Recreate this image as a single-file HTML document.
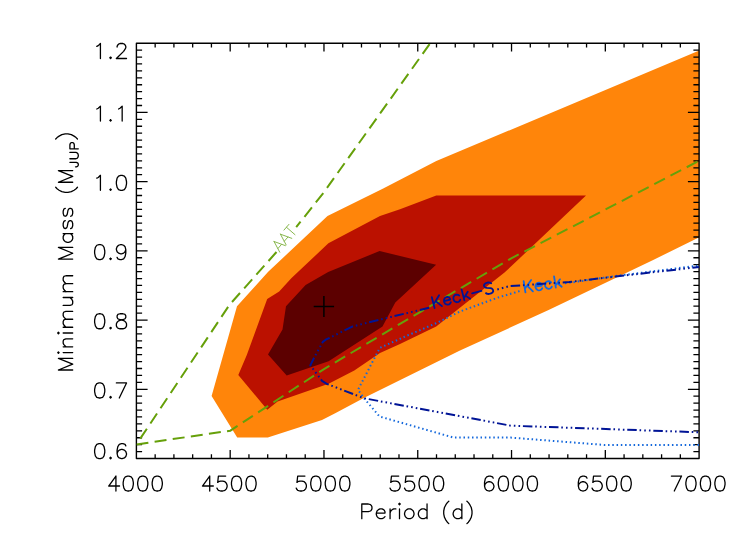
<!DOCTYPE html>
<html><head><meta charset="utf-8"><title>Minimum Mass vs Period</title>
<style>html,body{margin:0;padding:0;background:#fff;font-family:"Liberation Sans",sans-serif;}svg{display:block}</style></head>
<body>
<svg width="740" height="545" viewBox="0 0 740 545">
<rect x="0" y="0" width="740" height="545" fill="#ffffff"/>
<polygon points="211.6,396.1 237.0,306.2 268.2,271.7 327.5,216.1 383.2,188.6 436.3,161.0 699.3,50.5 699.3,237.2 653.2,260.0 548.6,310.0 460.0,350.6 363.8,397.9 335.2,413.3 322.0,420.0 267.8,437.4 237.2,437.4" fill="#FF850A"/>
<polygon points="238.3,375.0 246.8,355.0 267.2,299.0 279.2,291.5 291.3,278.3 328.4,243.3 380.0,216.1 400.0,209.3 436.3,195.6 586.0,195.6 504.5,272.6 436.2,326.4 400.0,344.1 380.0,352.9 354.3,370.5 328.6,383.7 277.6,401.4 267.3,409.7" fill="#BB1100"/>
<polygon points="268.0,354.5 282.5,329.5 286.0,306.2 305.6,284.9 328.2,272.0 379.6,251.0 436.1,264.8 395.3,302.6 382.5,326.4 328.6,361.3 286.7,375.5" fill="#5C0000"/>
<rect x="136.40" y="43.20" width="562.70" height="415.30" fill="none" stroke="#000" stroke-width="1.4" stroke-linejoin="round"/>
<path d="M155.16 458.50 v-4.30 M155.16 43.20 v4.30 M173.91 458.50 v-4.30 M173.91 43.20 v4.30 M192.67 458.50 v-4.30 M192.67 43.20 v4.30 M211.43 458.50 v-4.30 M211.43 43.20 v4.30 M230.18 458.50 v-8.40 M230.18 43.20 v8.40 M248.94 458.50 v-4.30 M248.94 43.20 v4.30 M267.70 458.50 v-4.30 M267.70 43.20 v4.30 M286.45 458.50 v-4.30 M286.45 43.20 v4.30 M305.21 458.50 v-4.30 M305.21 43.20 v4.30 M323.97 458.50 v-8.40 M323.97 43.20 v8.40 M342.72 458.50 v-4.30 M342.72 43.20 v4.30 M361.48 458.50 v-4.30 M361.48 43.20 v4.30 M380.24 458.50 v-4.30 M380.24 43.20 v4.30 M398.99 458.50 v-4.30 M398.99 43.20 v4.30 M417.75 458.50 v-8.40 M417.75 43.20 v8.40 M436.51 458.50 v-4.30 M436.51 43.20 v4.30 M455.26 458.50 v-4.30 M455.26 43.20 v4.30 M474.02 458.50 v-4.30 M474.02 43.20 v4.30 M492.78 458.50 v-4.30 M492.78 43.20 v4.30 M511.53 458.50 v-8.40 M511.53 43.20 v8.40 M530.29 458.50 v-4.30 M530.29 43.20 v4.30 M549.05 458.50 v-4.30 M549.05 43.20 v4.30 M567.80 458.50 v-4.30 M567.80 43.20 v4.30 M586.56 458.50 v-4.30 M586.56 43.20 v4.30 M605.32 458.50 v-8.40 M605.32 43.20 v8.40 M624.07 458.50 v-4.30 M624.07 43.20 v4.30 M642.83 458.50 v-4.30 M642.83 43.20 v4.30 M661.59 458.50 v-4.30 M661.59 43.20 v4.30 M680.34 458.50 v-4.30 M680.34 43.20 v4.30 M136.40 451.58 h5.70 M699.10 451.58 h-5.70 M136.40 444.66 h5.70 M699.10 444.66 h-5.70 M136.40 437.73 h5.70 M699.10 437.73 h-5.70 M136.40 430.81 h5.70 M699.10 430.81 h-5.70 M136.40 423.89 h5.70 M699.10 423.89 h-5.70 M136.40 416.97 h5.70 M699.10 416.97 h-5.70 M136.40 410.05 h5.70 M699.10 410.05 h-5.70 M136.40 403.13 h5.70 M699.10 403.13 h-5.70 M136.40 396.21 h5.70 M699.10 396.21 h-5.70 M136.40 389.28 h11.20 M699.10 389.28 h-11.20 M136.40 382.36 h5.70 M699.10 382.36 h-5.70 M136.40 375.44 h5.70 M699.10 375.44 h-5.70 M136.40 368.52 h5.70 M699.10 368.52 h-5.70 M136.40 361.60 h5.70 M699.10 361.60 h-5.70 M136.40 354.67 h5.70 M699.10 354.67 h-5.70 M136.40 347.75 h5.70 M699.10 347.75 h-5.70 M136.40 340.83 h5.70 M699.10 340.83 h-5.70 M136.40 333.91 h5.70 M699.10 333.91 h-5.70 M136.40 326.99 h5.70 M699.10 326.99 h-5.70 M136.40 320.07 h11.20 M699.10 320.07 h-11.20 M136.40 313.14 h5.70 M699.10 313.14 h-5.70 M136.40 306.22 h5.70 M699.10 306.22 h-5.70 M136.40 299.30 h5.70 M699.10 299.30 h-5.70 M136.40 292.38 h5.70 M699.10 292.38 h-5.70 M136.40 285.46 h5.70 M699.10 285.46 h-5.70 M136.40 278.54 h5.70 M699.10 278.54 h-5.70 M136.40 271.62 h5.70 M699.10 271.62 h-5.70 M136.40 264.69 h5.70 M699.10 264.69 h-5.70 M136.40 257.77 h5.70 M699.10 257.77 h-5.70 M136.40 250.85 h11.20 M699.10 250.85 h-11.20 M136.40 243.93 h5.70 M699.10 243.93 h-5.70 M136.40 237.01 h5.70 M699.10 237.01 h-5.70 M136.40 230.09 h5.70 M699.10 230.09 h-5.70 M136.40 223.16 h5.70 M699.10 223.16 h-5.70 M136.40 216.24 h5.70 M699.10 216.24 h-5.70 M136.40 209.32 h5.70 M699.10 209.32 h-5.70 M136.40 202.40 h5.70 M699.10 202.40 h-5.70 M136.40 195.48 h5.70 M699.10 195.48 h-5.70 M136.40 188.55 h5.70 M699.10 188.55 h-5.70 M136.40 181.63 h11.20 M699.10 181.63 h-11.20 M136.40 174.71 h5.70 M699.10 174.71 h-5.70 M136.40 167.79 h5.70 M699.10 167.79 h-5.70 M136.40 160.87 h5.70 M699.10 160.87 h-5.70 M136.40 153.95 h5.70 M699.10 153.95 h-5.70 M136.40 147.02 h5.70 M699.10 147.02 h-5.70 M136.40 140.10 h5.70 M699.10 140.10 h-5.70 M136.40 133.18 h5.70 M699.10 133.18 h-5.70 M136.40 126.26 h5.70 M699.10 126.26 h-5.70 M136.40 119.34 h5.70 M699.10 119.34 h-5.70 M136.40 112.42 h11.20 M699.10 112.42 h-11.20 M136.40 105.50 h5.70 M699.10 105.50 h-5.70 M136.40 98.57 h5.70 M699.10 98.57 h-5.70 M136.40 91.65 h5.70 M699.10 91.65 h-5.70 M136.40 84.73 h5.70 M699.10 84.73 h-5.70 M136.40 77.81 h5.70 M699.10 77.81 h-5.70 M136.40 70.89 h5.70 M699.10 70.89 h-5.70 M136.40 63.97 h5.70 M699.10 63.97 h-5.70 M136.40 57.04 h5.70 M699.10 57.04 h-5.70 M136.40 50.12 h5.70 M699.10 50.12 h-5.70" fill="none" stroke="#000" stroke-width="1.3"/>
<clipPath id="c"><rect x="136.40" y="43.20" width="562.70" height="415.30"/></clipPath>
<g clip-path="url(#c)">
<polyline points="138.0,442.0 229.5,304.8 276.5,252.0" fill="none" stroke="#66A00A" stroke-width="2.0" stroke-dasharray="12 6.3" stroke-dashoffset="14.3"/>
<polyline points="296.2,227.2 324.1,192.0 430.0,43.5" fill="none" stroke="#66A00A" stroke-width="2.0" stroke-dasharray="12 6.3" stroke-dashoffset="5"/>
<polyline points="136.5,444.4 230.3,430.7 324.4,368.8 417.9,313.3 511.7,258.1 605.5,209.5 699.1,160.8" fill="none" stroke="#66A00A" stroke-width="2.0" stroke-dasharray="12 6.3" stroke-dashoffset="0"/>
<polyline points="699.0,444.9 603.9,444.9 510.8,437.6 453.6,437.6 379.5,416.5 363.8,398.0 358.0,389.8 376.4,354.4 380.0,347.8 405.6,336.3 436.4,323.1 460.0,311.5 497.8,297.6 520.0,291.0" fill="none" stroke="#1468DC" stroke-width="2.0" stroke-dasharray="1.5 2.76" />
<polyline points="565.0,283.2 570.3,282.6 615.7,276.0 699.1,265.5" fill="none" stroke="#1468DC" stroke-width="2.0" stroke-dasharray="1.5 2.76" />
<path transform="translate(523.3 292.8) rotate(-9.0)" d="M2.16 -11.34 L2.16 0.00 M9.72 -11.34 L2.16 -3.78 M4.86 -6.48 L9.72 0.00 M12.96 -4.32 L19.44 -4.32 L19.44 -5.40 L18.90 -6.48 L18.36 -7.02 L17.28 -7.56 L15.66 -7.56 L14.58 -7.02 L13.50 -5.94 L12.96 -4.32 L12.96 -3.24 L13.50 -1.62 L14.58 -0.54 L15.66 0.00 L17.28 0.00 L18.36 -0.54 L19.44 -1.62 M29.16 -5.94 L28.08 -7.02 L27.00 -7.56 L25.38 -7.56 L24.30 -7.02 L23.22 -5.94 L22.68 -4.32 L22.68 -3.24 L23.22 -1.62 L24.30 -0.54 L25.38 0.00 L27.00 0.00 L28.08 -0.54 L29.16 -1.62 M32.94 -11.34 L32.94 0.00 M38.34 -7.56 L32.94 -2.16 M35.10 -4.32 L38.88 0.00" fill="none" stroke="#1468DC" stroke-width="1.8" stroke-linecap="round" stroke-linejoin="round"/>
<polyline points="699.0,432.3 510.8,425.7 363.8,398.2 326.4,383.7 322.0,380.8 310.3,365.4 314.7,356.6 322.8,341.9 325.7,339.7 352.8,326.4 383.6,318.7 430.5,307.5" fill="none" stroke="#001496" stroke-width="2" stroke-dasharray="9.5 2.8 1.6 3.1 1.6 3.1 1.6 2.8" stroke-linejoin="round" stroke-dashoffset="16"/>
<polyline points="497.0,289.5 509.2,286.2 569.2,282.0 615.7,276.5 699.1,267.0" fill="none" stroke="#001496" stroke-width="2" stroke-dasharray="9.5 2.8 1.6 3.1 1.6 3.1 1.6 2.8" stroke-dashoffset="12"/>
<path transform="translate(432.5 308.6) rotate(-14.5)" d="M2.16 -11.34 L2.16 0.00 M9.72 -11.34 L2.16 -3.78 M4.86 -6.48 L9.72 0.00 M12.96 -4.32 L19.44 -4.32 L19.44 -5.40 L18.90 -6.48 L18.36 -7.02 L17.28 -7.56 L15.66 -7.56 L14.58 -7.02 L13.50 -5.94 L12.96 -4.32 L12.96 -3.24 L13.50 -1.62 L14.58 -0.54 L15.66 0.00 L17.28 0.00 L18.36 -0.54 L19.44 -1.62 M29.16 -5.94 L28.08 -7.02 L27.00 -7.56 L25.38 -7.56 L24.30 -7.02 L23.22 -5.94 L22.68 -4.32 L22.68 -3.24 L23.22 -1.62 L24.30 -0.54 L25.38 0.00 L27.00 0.00 L28.08 -0.54 L29.16 -1.62 M32.94 -11.34 L32.94 0.00 M38.34 -7.56 L32.94 -2.16 M35.10 -4.32 L38.88 0.00 M42.12 -4.86 L51.84 -4.86 M63.18 -9.72 L62.10 -10.80 L60.48 -11.34 L58.32 -11.34 L56.70 -10.80 L55.62 -9.72 L55.62 -8.64 L56.16 -7.56 L56.70 -7.02 L57.78 -6.48 L61.02 -5.40 L62.10 -4.86 L62.64 -4.32 L63.18 -3.24 L63.18 -1.62 L62.10 -0.54 L60.48 0.00 L58.32 0.00 L56.70 -0.54 L55.62 -1.62" fill="none" stroke="#001496" stroke-width="1.8" stroke-linecap="round" stroke-linejoin="round"/>
<path transform="translate(279.4 252.6) rotate(-49.0)" d="M4.86 -11.34 L0.54 0.00 M4.86 -11.34 L9.18 0.00 M2.16 -3.78 L7.56 -3.78 M14.58 -11.34 L10.26 0.00 M14.58 -11.34 L18.90 0.00 M11.88 -3.78 L17.28 -3.78 M23.76 -11.34 L23.76 0.00 M19.98 -11.34 L27.54 -11.34" fill="none" stroke="#86b54a" stroke-width="0.9" stroke-linecap="round" stroke-linejoin="round"/>
</g>
<path d="M313.7 306.5 H334.1 M323.9 296.1 V316.9" stroke="#000" stroke-width="1.5" fill="none"/>
<path d="M115.92 476.05 L108.67 486.02 L119.55 486.02 M115.92 476.05 L115.92 491.00 M127.53 476.05 L125.35 476.76 L123.90 478.90 L123.17 482.46 L123.17 484.59 L123.90 488.15 L125.35 490.29 L127.53 491.00 L128.97 491.00 L131.15 490.29 L132.60 488.15 L133.32 484.59 L133.32 482.46 L132.60 478.90 L131.15 476.76 L128.97 476.05 L127.53 476.05 M142.03 476.05 L139.85 476.76 L138.40 478.90 L137.68 482.46 L137.68 484.59 L138.40 488.15 L139.85 490.29 L142.03 491.00 L143.47 491.00 L145.65 490.29 L147.10 488.15 L147.82 484.59 L147.82 482.46 L147.10 478.90 L145.65 476.76 L143.47 476.05 L142.03 476.05 M156.53 476.05 L154.35 476.76 L152.90 478.90 L152.18 482.46 L152.18 484.59 L152.90 488.15 L154.35 490.29 L156.53 491.00 L157.97 491.00 L160.15 490.29 L161.60 488.15 L162.32 484.59 L162.32 482.46 L161.60 478.90 L160.15 476.76 L157.97 476.05 L156.53 476.05 M209.71 476.05 L202.46 486.02 L213.33 486.02 M209.71 476.05 L209.71 491.00 M225.66 476.05 L218.41 476.05 L217.68 482.46 L218.41 481.74 L220.58 481.03 L222.76 481.03 L224.93 481.74 L226.38 483.17 L227.11 485.30 L227.11 486.73 L226.38 488.86 L224.93 490.29 L222.76 491.00 L220.58 491.00 L218.41 490.29 L217.68 489.58 L216.96 488.15 M235.81 476.05 L233.63 476.76 L232.18 478.90 L231.46 482.46 L231.46 484.59 L232.18 488.15 L233.63 490.29 L235.81 491.00 L237.26 491.00 L239.43 490.29 L240.88 488.15 L241.61 484.59 L241.61 482.46 L240.88 478.90 L239.43 476.76 L237.26 476.05 L235.81 476.05 M250.31 476.05 L248.13 476.76 L246.68 478.90 L245.96 482.46 L245.96 484.59 L246.68 488.15 L248.13 490.29 L250.31 491.00 L251.76 491.00 L253.93 490.29 L255.38 488.15 L256.11 484.59 L256.11 482.46 L255.38 478.90 L253.93 476.76 L251.76 476.05 L250.31 476.05 M304.94 476.05 L297.69 476.05 L296.97 482.46 L297.69 481.74 L299.87 481.03 L302.04 481.03 L304.22 481.74 L305.67 483.17 L306.39 485.30 L306.39 486.73 L305.67 488.86 L304.22 490.29 L302.04 491.00 L299.87 491.00 L297.69 490.29 L296.97 489.58 L296.24 488.15 M315.09 476.05 L312.92 476.76 L311.47 478.90 L310.74 482.46 L310.74 484.59 L311.47 488.15 L312.92 490.29 L315.09 491.00 L316.54 491.00 L318.72 490.29 L320.17 488.15 L320.89 484.59 L320.89 482.46 L320.17 478.90 L318.72 476.76 L316.54 476.05 L315.09 476.05 M329.59 476.05 L327.42 476.76 L325.97 478.90 L325.24 482.46 L325.24 484.59 L325.97 488.15 L327.42 490.29 L329.59 491.00 L331.04 491.00 L333.22 490.29 L334.67 488.15 L335.39 484.59 L335.39 482.46 L334.67 478.90 L333.22 476.76 L331.04 476.05 L329.59 476.05 M344.09 476.05 L341.92 476.76 L340.47 478.90 L339.74 482.46 L339.74 484.59 L340.47 488.15 L341.92 490.29 L344.09 491.00 L345.54 491.00 L347.72 490.29 L349.17 488.15 L349.89 484.59 L349.89 482.46 L349.17 478.90 L347.72 476.76 L345.54 476.05 L344.09 476.05 M398.73 476.05 L391.48 476.05 L390.75 482.46 L391.48 481.74 L393.65 481.03 L395.83 481.03 L398.00 481.74 L399.45 483.17 L400.18 485.30 L400.18 486.73 L399.45 488.86 L398.00 490.29 L395.83 491.00 L393.65 491.00 L391.48 490.29 L390.75 489.58 L390.03 488.15 M413.23 476.05 L405.98 476.05 L405.25 482.46 L405.98 481.74 L408.15 481.03 L410.33 481.03 L412.50 481.74 L413.95 483.17 L414.68 485.30 L414.68 486.73 L413.95 488.86 L412.50 490.29 L410.33 491.00 L408.15 491.00 L405.98 490.29 L405.25 489.58 L404.53 488.15 M423.38 476.05 L421.20 476.76 L419.75 478.90 L419.03 482.46 L419.03 484.59 L419.75 488.15 L421.20 490.29 L423.38 491.00 L424.83 491.00 L427.00 490.29 L428.45 488.15 L429.18 484.59 L429.18 482.46 L428.45 478.90 L427.00 476.76 L424.83 476.05 L423.38 476.05 M437.88 476.05 L435.70 476.76 L434.25 478.90 L433.53 482.46 L433.53 484.59 L434.25 488.15 L435.70 490.29 L437.88 491.00 L439.33 491.00 L441.50 490.29 L442.95 488.15 L443.68 484.59 L443.68 482.46 L442.95 478.90 L441.50 476.76 L439.33 476.05 L437.88 476.05 M493.23 478.18 L492.51 476.76 L490.33 476.05 L488.88 476.05 L486.71 476.76 L485.26 478.90 L484.53 482.46 L484.53 486.02 L485.26 488.86 L486.71 490.29 L488.88 491.00 L489.61 491.00 L491.78 490.29 L493.23 488.86 L493.96 486.73 L493.96 486.02 L493.23 483.88 L491.78 482.46 L489.61 481.74 L488.88 481.74 L486.71 482.46 L485.26 483.88 L484.53 486.02 M502.66 476.05 L500.48 476.76 L499.03 478.90 L498.31 482.46 L498.31 484.59 L499.03 488.15 L500.48 490.29 L502.66 491.00 L504.11 491.00 L506.28 490.29 L507.73 488.15 L508.46 484.59 L508.46 482.46 L507.73 478.90 L506.28 476.76 L504.11 476.05 L502.66 476.05 M517.16 476.05 L514.98 476.76 L513.53 478.90 L512.81 482.46 L512.81 484.59 L513.53 488.15 L514.98 490.29 L517.16 491.00 L518.61 491.00 L520.78 490.29 L522.23 488.15 L522.96 484.59 L522.96 482.46 L522.23 478.90 L520.78 476.76 L518.61 476.05 L517.16 476.05 M531.66 476.05 L529.48 476.76 L528.03 478.90 L527.31 482.46 L527.31 484.59 L528.03 488.15 L529.48 490.29 L531.66 491.00 L533.11 491.00 L535.28 490.29 L536.73 488.15 L537.46 484.59 L537.46 482.46 L536.73 478.90 L535.28 476.76 L533.11 476.05 L531.66 476.05 M587.02 478.18 L586.29 476.76 L584.12 476.05 L582.67 476.05 L580.49 476.76 L579.04 478.90 L578.32 482.46 L578.32 486.02 L579.04 488.86 L580.49 490.29 L582.67 491.00 L583.39 491.00 L585.57 490.29 L587.02 488.86 L587.74 486.73 L587.74 486.02 L587.02 483.88 L585.57 482.46 L583.39 481.74 L582.67 481.74 L580.49 482.46 L579.04 483.88 L578.32 486.02 M600.79 476.05 L593.54 476.05 L592.82 482.46 L593.54 481.74 L595.72 481.03 L597.89 481.03 L600.07 481.74 L601.52 483.17 L602.24 485.30 L602.24 486.73 L601.52 488.86 L600.07 490.29 L597.89 491.00 L595.72 491.00 L593.54 490.29 L592.82 489.58 L592.09 488.15 M610.94 476.05 L608.77 476.76 L607.32 478.90 L606.59 482.46 L606.59 484.59 L607.32 488.15 L608.77 490.29 L610.94 491.00 L612.39 491.00 L614.57 490.29 L616.02 488.15 L616.74 484.59 L616.74 482.46 L616.02 478.90 L614.57 476.76 L612.39 476.05 L610.94 476.05 M625.44 476.05 L623.27 476.76 L621.82 478.90 L621.09 482.46 L621.09 484.59 L621.82 488.15 L623.27 490.29 L625.44 491.00 L626.89 491.00 L629.07 490.29 L630.52 488.15 L631.24 484.59 L631.24 482.46 L630.52 478.90 L629.07 476.76 L626.89 476.05 L625.44 476.05 M681.53 476.05 L674.28 491.00 M671.38 476.05 L681.53 476.05 M690.23 476.05 L688.05 476.76 L686.60 478.90 L685.88 482.46 L685.88 484.59 L686.60 488.15 L688.05 490.29 L690.23 491.00 L691.68 491.00 L693.85 490.29 L695.30 488.15 L696.03 484.59 L696.03 482.46 L695.30 478.90 L693.85 476.76 L691.68 476.05 L690.23 476.05 M704.73 476.05 L702.55 476.76 L701.10 478.90 L700.38 482.46 L700.38 484.59 L701.10 488.15 L702.55 490.29 L704.73 491.00 L706.18 491.00 L708.35 490.29 L709.80 488.15 L710.53 484.59 L710.53 482.46 L709.80 478.90 L708.35 476.76 L706.18 476.05 L704.73 476.05 M719.23 476.05 L717.05 476.76 L715.60 478.90 L714.88 482.46 L714.88 484.59 L715.60 488.15 L717.05 490.29 L719.23 491.00 L720.68 491.00 L722.85 490.29 L724.30 488.15 L725.03 484.59 L725.03 482.46 L724.30 478.90 L722.85 476.76 L720.68 476.05 L719.23 476.05 M98.97 443.69 L96.80 444.40 L95.35 446.55 L94.62 450.12 L94.62 452.26 L95.35 455.84 L96.80 457.99 L98.97 458.70 L100.42 458.70 L102.60 457.99 L104.05 455.84 L104.77 452.26 L104.77 450.12 L104.05 446.55 L102.60 444.40 L100.42 443.69 L98.97 443.69 M110.57 457.27 L109.85 457.99 L110.57 458.70 L111.30 457.99 L110.57 457.27 M125.80 445.83 L125.07 444.40 L122.90 443.69 L121.45 443.69 L119.27 444.40 L117.82 446.55 L117.10 450.12 L117.10 453.69 L117.82 456.56 L119.27 457.99 L121.45 458.70 L122.17 458.70 L124.35 457.99 L125.80 456.56 L126.52 454.41 L126.52 453.69 L125.80 451.55 L124.35 450.12 L122.17 449.40 L121.45 449.40 L119.27 450.12 L117.82 451.55 L117.10 453.69 M98.97 382.97 L96.80 383.68 L95.35 385.83 L94.62 389.40 L94.62 391.55 L95.35 395.12 L96.80 397.27 L98.97 397.98 L100.42 397.98 L102.60 397.27 L104.05 395.12 L104.77 391.55 L104.77 389.40 L104.05 385.83 L102.60 383.68 L100.42 382.97 L98.97 382.97 M110.57 396.55 L109.85 397.27 L110.57 397.98 L111.30 397.27 L110.57 396.55 M126.52 382.97 L119.27 397.98 M116.37 382.97 L126.52 382.97 M98.97 313.75 L96.80 314.47 L95.35 316.61 L94.62 320.19 L94.62 322.33 L95.35 325.91 L96.80 328.05 L98.97 328.77 L100.42 328.77 L102.60 328.05 L104.05 325.91 L104.77 322.33 L104.77 320.19 L104.05 316.61 L102.60 314.47 L100.42 313.75 L98.97 313.75 M110.57 327.34 L109.85 328.05 L110.57 328.77 L111.30 328.05 L110.57 327.34 M120.00 313.75 L117.82 314.47 L117.10 315.90 L117.10 317.33 L117.82 318.76 L119.27 319.47 L122.17 320.19 L124.35 320.90 L125.80 322.33 L126.52 323.76 L126.52 325.91 L125.80 327.34 L125.07 328.05 L122.90 328.77 L120.00 328.77 L117.82 328.05 L117.10 327.34 L116.37 325.91 L116.37 323.76 L117.10 322.33 L118.55 320.90 L120.72 320.19 L123.62 319.47 L125.07 318.76 L125.80 317.33 L125.80 315.90 L125.07 314.47 L122.90 313.75 L120.00 313.75 M98.97 244.53 L96.80 245.25 L95.35 247.39 L94.62 250.97 L94.62 253.11 L95.35 256.69 L96.80 258.83 L98.97 259.55 L100.42 259.55 L102.60 258.83 L104.05 256.69 L104.77 253.11 L104.77 250.97 L104.05 247.39 L102.60 245.25 L100.42 244.53 L98.97 244.53 M110.57 258.12 L109.85 258.83 L110.57 259.55 L111.30 258.83 L110.57 258.12 M125.80 249.54 L125.07 251.68 L123.62 253.11 L121.45 253.83 L120.72 253.83 L118.55 253.11 L117.10 251.68 L116.37 249.54 L116.37 248.82 L117.10 246.68 L118.55 245.25 L120.72 244.53 L121.45 244.53 L123.62 245.25 L125.07 246.68 L125.80 249.54 L125.80 253.11 L125.07 256.69 L123.62 258.83 L121.45 259.55 L120.00 259.55 L117.82 258.83 L117.10 257.40 M96.80 178.18 L98.25 177.46 L100.42 175.32 L100.42 190.33 M110.57 188.90 L109.85 189.62 L110.57 190.33 L111.30 189.62 L110.57 188.90 M120.72 175.32 L118.55 176.03 L117.10 178.18 L116.37 181.75 L116.37 183.90 L117.10 187.47 L118.55 189.62 L120.72 190.33 L122.17 190.33 L124.35 189.62 L125.80 187.47 L126.52 183.90 L126.52 181.75 L125.80 178.18 L124.35 176.03 L122.17 175.32 L120.72 175.32 M96.80 108.96 L98.25 108.25 L100.42 106.10 L100.42 121.12 M110.57 119.69 L109.85 120.40 L110.57 121.12 L111.30 120.40 L110.57 119.69 M118.55 108.96 L120.00 108.25 L122.17 106.10 L122.17 121.12 M96.80 46.34 L98.25 45.63 L100.42 43.48 L100.42 58.50 M110.57 57.07 L109.85 57.78 L110.57 58.50 L111.30 57.78 L110.57 57.07 M117.10 47.06 L117.10 46.34 L117.82 44.91 L118.55 44.20 L120.00 43.48 L122.90 43.48 L124.35 44.20 L125.07 44.91 L125.80 46.34 L125.80 47.77 L125.07 49.20 L123.62 51.35 L116.37 58.50 L126.52 58.50 M361.80 504.00 L361.80 518.70 M361.80 504.00 L368.32 504.00 L370.50 504.70 L371.23 505.40 L371.95 506.80 L371.95 508.90 L371.23 510.30 L370.50 511.00 L368.32 511.70 L361.80 511.70 M376.30 513.10 L385.00 513.10 L385.00 511.70 L384.27 510.30 L383.55 509.60 L382.10 508.90 L379.92 508.90 L378.47 509.60 L377.02 511.00 L376.30 513.10 L376.30 514.50 L377.02 516.60 L378.47 518.00 L379.92 518.70 L382.10 518.70 L383.55 518.00 L385.00 516.60 M390.07 508.90 L390.07 518.70 M390.07 513.10 L390.80 511.00 L392.25 509.60 L393.70 508.90 L395.88 508.90 M398.77 504.00 L399.50 504.70 L400.23 504.00 L399.50 503.30 L398.77 504.00 M399.50 508.90 L399.50 518.70 M408.20 508.90 L406.75 509.60 L405.30 511.00 L404.57 513.10 L404.57 514.50 L405.30 516.60 L406.75 518.00 L408.20 518.70 L410.38 518.70 L411.82 518.00 L413.28 516.60 L414.00 514.50 L414.00 513.10 L413.28 511.00 L411.82 509.60 L410.38 508.90 L408.20 508.90 M427.05 504.00 L427.05 518.70 M427.05 511.00 L425.60 509.60 L424.15 508.90 L421.97 508.90 L420.52 509.60 L419.07 511.00 L418.35 513.10 L418.35 514.50 L419.07 516.60 L420.52 518.00 L421.97 518.70 L424.15 518.70 L425.60 518.00 L427.05 516.60 M448.80 501.20 L447.35 502.60 L445.90 504.70 L444.45 507.50 L443.72 511.00 L443.72 513.80 L444.45 517.30 L445.90 520.10 L447.35 522.20 L448.80 523.60 M461.85 504.00 L461.85 518.70 M461.85 511.00 L460.40 509.60 L458.95 508.90 L456.77 508.90 L455.32 509.60 L453.87 511.00 L453.15 513.10 L453.15 514.50 L453.87 516.60 L455.32 518.00 L456.77 518.70 L458.95 518.70 L460.40 518.00 L461.85 516.60 M466.92 501.20 L468.37 502.60 L469.82 504.70 L471.27 507.50 L472.00 511.00 L472.00 513.80 L471.27 517.30 L469.82 520.10 L468.37 522.20 L466.92 523.60" fill="none" stroke="#000" stroke-width="1.3" stroke-linecap="round" stroke-linejoin="round"/>
<g transform="translate(72.7 372.9) rotate(-90)" fill="none" stroke="#000" stroke-linecap="round" stroke-linejoin="round"><path d="M2.90 -14.28 L2.90 0.00 M2.90 -14.28 L8.70 0.00 M14.50 -14.28 L8.70 0.00 M14.50 -14.28 L14.50 0.00 M19.57 -14.28 L20.30 -13.60 L21.02 -14.28 L20.30 -14.96 L19.57 -14.28 M20.30 -9.52 L20.30 0.00 M26.10 -9.52 L26.10 0.00 M26.10 -6.80 L28.27 -8.84 L29.72 -9.52 L31.90 -9.52 L33.35 -8.84 L34.07 -6.80 L34.07 0.00 M39.15 -14.28 L39.88 -13.60 L40.60 -14.28 L39.88 -14.96 L39.15 -14.28 M39.88 -9.52 L39.88 0.00 M45.67 -9.52 L45.67 0.00 M45.67 -6.80 L47.85 -8.84 L49.30 -9.52 L51.48 -9.52 L52.92 -8.84 L53.65 -6.80 L53.65 0.00 M53.65 -6.80 L55.82 -8.84 L57.27 -9.52 L59.45 -9.52 L60.90 -8.84 L61.62 -6.80 L61.62 0.00 M67.43 -9.52 L67.43 -2.72 L68.15 -0.68 L69.60 0.00 L71.78 0.00 L73.23 -0.68 L75.40 -2.72 M75.40 -9.52 L75.40 0.00 M81.20 -9.52 L81.20 0.00 M81.20 -6.80 L83.38 -8.84 L84.83 -9.52 L87.00 -9.52 L88.45 -8.84 L89.18 -6.80 L89.18 0.00 M89.18 -6.80 L91.35 -8.84 L92.80 -9.52 L94.98 -9.52 L96.43 -8.84 L97.15 -6.80 L97.15 0.00 M113.83 -14.28 L113.83 0.00 M113.83 -14.28 L119.63 0.00 M125.43 -14.28 L119.63 0.00 M125.43 -14.28 L125.43 0.00 M139.20 -9.52 L139.20 0.00 M139.20 -7.48 L137.75 -8.84 L136.30 -9.52 L134.13 -9.52 L132.68 -8.84 L131.23 -7.48 L130.50 -5.44 L130.50 -4.08 L131.23 -2.04 L132.68 -0.68 L134.13 0.00 L136.30 0.00 L137.75 -0.68 L139.20 -2.04 M152.25 -7.48 L151.53 -8.84 L149.35 -9.52 L147.18 -9.52 L145.00 -8.84 L144.28 -7.48 L145.00 -6.12 L146.45 -5.44 L150.08 -4.76 L151.53 -4.08 L152.25 -2.72 L152.25 -2.04 L151.53 -0.68 L149.35 0.00 L147.18 0.00 L145.00 -0.68 L144.28 -2.04 M164.58 -7.48 L163.85 -8.84 L161.68 -9.52 L159.50 -9.52 L157.33 -8.84 L156.60 -7.48 L157.33 -6.12 L158.78 -5.44 L162.40 -4.76 L163.85 -4.08 L164.58 -2.72 L164.58 -2.04 L163.85 -0.68 L161.68 0.00 L159.50 0.00 L157.33 -0.68 L156.60 -2.04 M185.60 -17.00 L184.15 -15.64 L182.70 -13.60 L181.25 -10.88 L180.52 -7.48 L180.52 -4.76 L181.25 -1.36 L182.70 1.36 L184.15 3.40 L185.60 4.76 M190.67 -14.28 L190.67 0.00 M190.67 -14.28 L196.47 0.00 M202.28 -14.28 L196.47 0.00 M202.28 -14.28 L202.28 0.00 M233.87 -17.00 L235.32 -15.64 L236.77 -13.60 L238.22 -10.88 L238.95 -7.48 L238.95 -4.76 L238.22 -1.36 L236.77 1.36 L235.32 3.40 L233.87 4.76" stroke-width="1.3"/><path d="M210.57 -2.80 L210.57 3.60 L210.12 4.80 L209.67 5.20 L208.77 5.60 L207.87 5.60 L206.97 5.20 L206.52 4.80 L206.07 3.60 L206.07 2.80 M214.17 -2.80 L214.17 3.20 L214.61 4.40 L215.51 5.20 L216.86 5.60 L217.76 5.60 L219.11 5.20 L220.01 4.40 L220.46 3.20 L220.46 -2.80 M224.05 -2.80 L224.05 5.60 M224.05 -2.80 L228.10 -2.80 L229.45 -2.40 L229.90 -2.00 L230.35 -1.20 L230.35 -0.00 L229.90 0.80 L229.45 1.20 L228.10 1.60 L224.05 1.60" stroke-width="1.3"/></g>
</svg>
</body></html>
